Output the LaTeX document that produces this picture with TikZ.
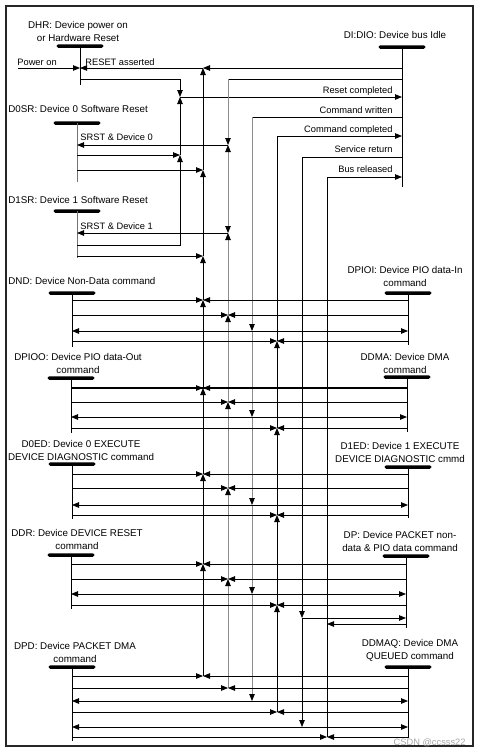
\documentclass[tikz,border=0pt]{standalone}
\usepackage{fontspec}
\setmainfont{Liberation Sans}
\usetikzlibrary{arrows.meta}

\begin{document}
\begin{tikzpicture}[x=1pt, y=-1pt, line width=0.8pt,
  >={Triangle[length=7pt,width=5.5pt]},
  title/.style={font=\fontsize{9.8}{13}\selectfont, inner sep=0pt, align=center},
  lbl/.style={font=\fontsize{9.3}{11}\selectfont, inner sep=0pt},
  bar/.style={fill=black, rounded corners=1.7pt, minimum width=47pt, minimum height=3.5pt, inner sep=0pt},
  gbus/.style={draw=black!45, >={Triangle[length=7pt,width=5.5pt,color=black,fill=black]}}]
  \useasboundingbox (0,0) rectangle (480,756);
  \draw[line width=1.3pt, black!85] (6,6) rectangle (473,746);

  % State bars
  \node[bar] (dhr) at (80,46) {};
  \node[bar] (di) at (402,47) {};
  \node[bar] (d0sr) at (77,123) {};
  \node[bar] (d1sr) at (77,211) {};
  \node[bar] (dnd) at (72,293) {};
  \node[bar] (dpioi) at (408,293) {};
  \node[bar] (dpioo) at (71,378) {};
  \node[bar] (ddma) at (407,377) {};
  \node[bar] (d0ed) at (72,464) {};
  \node[bar] (d1ed) at (408,467) {};
  \node[bar] (ddr) at (71,555) {};
  \node[bar] (dp) at (406,556) {};
  \node[bar] (dpd) at (72,667) {};
  \node[bar] (ddmaq) at (408,667) {};

  % State names
  \node[title] (dhrT) at (78,31) {DHR: Device power on\\or Hardware Reset};
  \node[title] (diT) at (395,35) {DI:DIO: Device bus Idle};
  \node[title, anchor=west] (d0srT) at (8,109) {D0SR: Device 0 Software Reset};
  \node[title, anchor=west] (d1srT) at (8,200) {D1SR: Device 1 Software Reset};
  \node[title, anchor=west] (dndT) at (8,281) {DND: Device Non-Data command};
  \node[title] (dpioiT) at (405,276.5) {DPIOI: Device PIO data-In\\command};
  \node[title] (dpiooT) at (78,363.5) {DPIOO: Device PIO data-Out\\command};
  \node[title] (ddmaT) at (405,363) {DDMA: Device DMA\\command};
  \node[title] (d0edT) at (81,450) {D0ED: Device 0 EXECUTE\\DEVICE DIAGNOSTIC command};
  \node[title] (d1edT) at (400,452.5) {D1ED: Device 1 EXECUTE\\DEVICE DIAGNOSTIC cmmd};
  \node[title] (ddrT) at (77,539) {DDR: Device DEVICE RESET\\command};
  \node[title] (dpT) at (400,541) {DP: Device PACKET non-\\data \& PIO data command};
  \node[title] (dpdT) at (75,652) {DPD: Device PACKET DMA\\command};
  \node[title] (ddmaqT) at (410,650) {DDMAQ: Device DMA\\QUEUED command};

  % Life lines
  \draw (dhr.center) -- ++(0,39);
  \draw (di.center) -- ++(0,140);
  \draw[black!55] (d0sr.center) -- ++(0,59);
  \draw[black!55] (d1sr.center) -- ++(0,47);
  \draw (dnd.center) -- ++(0,54);
  \draw (dpioi.center) -- ++(0,52);
  \draw (dpioo.center) -- ++(0,55);
  \draw (ddma.center) -- ++(0,55);
  \draw (d0ed.center) -- ++(0,55);
  \draw (d1ed.center) -- ++(0,51);
  \draw (ddr.center) -- ++(0,54);
  \draw (dp.center) -- ++(0,72);
  \draw (dpd.center) -- ++(0,74);
  \draw (ddmaq.center) -- ++(0,71);

  % Buses
  \coordinate (pwr) at (18,68);
  \coordinate (bK) at (180,79);
  \coordinate (bR) at (203,68);
  \coordinate (bS) at (228,79);
  \coordinate (bW) at (252,117);
  \coordinate (bC) at (277,136);
  \coordinate (bV) at (302,157);
  \coordinate (bB) at (327,177);

  % Power on and reset
  \draw[->] (pwr) -- (dhr |- pwr);
  \draw[->] (di |- bR) -- (bR);
  \draw[->] (bR) -- (dhr |- bR);
  \node[lbl, anchor=base west] (pwrL) at (17,65) {Power on};
  \node[lbl, anchor=base west] (rstL) at (85,65) {RESET asserted};
  \foreach \a/\b in {676/564, 564/474, 474/388, 388/300, 300/256, 256/170, 170/68}
    \draw[->] (bR |- 0,\a) -- (bR |- 0,\b);

  % Reset completed
  \draw[->] (dhr |- bK) -| (bK |- 0,97);
  \draw[->] (bK |- 0,97) -- (di |- 0,97);
  \draw[->] (d0sr |- 0,155) -- (bK |- 0,155);
  \draw[->] (d1sr |- 0,245) -| (bK |- 0,155);
  \draw[->] (bK |- 0,155) -- (bK |- 0,97);
  \draw[->] (d0sr |- 0,170) -- (bR |- 0,170);
  \draw[->] (d1sr |- 0,256) -- (bR |- 0,256);
  \node[lbl, anchor=base east] (rcL) at (393,93.5) {Reset completed};

  % Software reset
  \draw (di |- bS) -- (bS);
  \draw[gbus,->] (bS) -- (bS |- 0,145);
  \draw[gbus,<->] (bS |- 0,145) -- (bS |- 0,233);
  \foreach \a/\b in {688/579, 579/488, 488/402, 402/315, 315/233}
    \draw[gbus,->] (bS |- 0,\a) -- (bS |- 0,\b);
  \draw[->] (bS |- 0,145) -- (d0sr |- 0,145);
  \draw[->] (bS |- 0,233) -- (d1sr |- 0,233);
  \node[lbl, anchor=base west] (s0L) at (80,140.5) {SRST \& Device 0};
  \node[lbl, anchor=base west] (s1L) at (80,229.5) {SRST \& Device 1};

  % Command written
  \draw (di |- bW) -- (bW);
  \foreach \a/\b in {117/331, 331/417, 417/505, 505/594, 594/701}
    \draw[gbus,->] (bW |- 0,\a) -- (bW |- 0,\b);
  \node[lbl, anchor=base east] (cwL) at (393,113.5) {Command written};

  % Command completed
  \foreach \a/\b in {712/605, 605/515, 515/428, 428/341}
    \draw[->] (bC |- 0,\a) -- (bC |- 0,\b);
  \draw[->] (bC |- 0,341) |- (di |- bC);
  \node[lbl, anchor=base east] (ccL) at (393,132.5) {Command completed};

  % Service return and bus released
  \draw[->] (di |- bV) -| (bV |- 0,618);
  \draw[->] (bV |- 0,618) -- (bV |- 0,727);
  \draw[->] (bB |- 0,737) |- (di |- bB);
  \node[lbl, anchor=base east] (srL) at (393,152.5) {Service return};
  \node[lbl, anchor=base east] (brL) at (393,172.5) {Bus released};

  % Command states
  \foreach \L/\R/\ya/\yb/\yc/\yd in {dnd/dpioi/300/315/331/341, dpioo/ddma/388/402/417/428,
      d0ed/d1ed/474/488/505/515, ddr/dp/564/579/594/605, dpd/ddmaq/676/688/701/712} {
    \draw[->] (\L |- 0,\ya) -- (bR |- 0,\ya);
    \draw[->] (\R |- 0,\ya) -- (bR |- 0,\ya);
    \draw[->] (\L |- 0,\yb) -- (bS |- 0,\yb);
    \draw[->] (\R |- 0,\yb) -- (bS |- 0,\yb);
    \draw[->] (bW |- 0,\yc) -- (\L |- 0,\yc);
    \draw[->] (bW |- 0,\yc) -- (\R |- 0,\yc);
    \draw[->] (\L |- 0,\yd) -- (bC |- 0,\yd);
    \draw[->] (\R |- 0,\yd) -- (bC |- 0,\yd);
  }
  \draw[line width=1.6pt] (dpioo |- 0,388) -- (ddma |- 0,388);
  \draw[->] (bV |- 0,618) -- (dp |- 0,618);
  \draw[->] (dp |- 0,624) -- (bB |- 0,624);
  \draw[->] (bV |- 0,727) -- (dpd |- 0,727);
  \draw[->] (bV |- 0,727) -- (ddmaq |- 0,727);
  \draw[->] (dpd |- 0,737) -- (bB |- 0,737);
  \draw[->] (ddmaq |- 0,737) -- (bB |- 0,737);

  \node[lbl, text=black!35, anchor=base east] (wm) at (466,745) {CSDN @ccsss22};
\end{tikzpicture}
\end{document}
